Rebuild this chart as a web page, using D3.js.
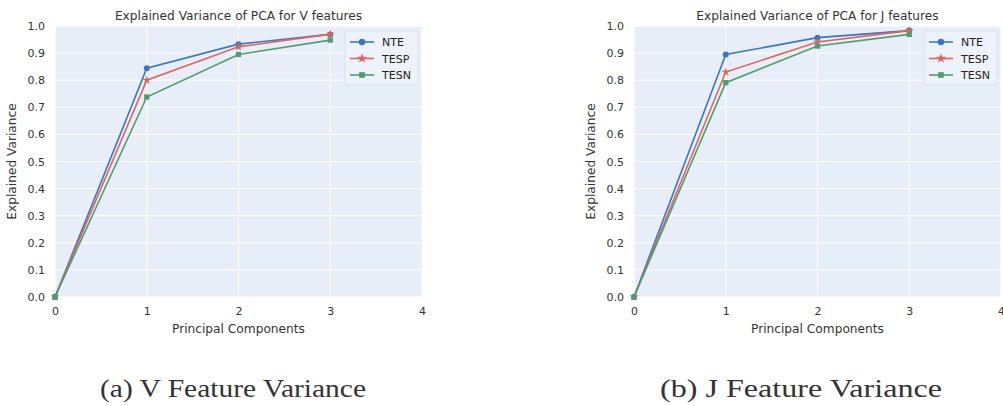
<!DOCTYPE html>
<html>
<head>
<meta charset="utf-8">
<script src="https://cdn.jsdelivr.net/npm/d3@7"></script>
<style>
  body { margin: 0; background: #fff; }
  svg { display: block; }
</style>
</head>
<body>
<div id="chart"></div>
<script>
const components = [0, 1, 2, 3];
const seriesNames = ["NTE", "TESP", "TESN"];
const yTicks = [0, 0.1, 0.2, 0.3, 0.4, 0.5, 0.6, 0.7, 0.8, 0.9, 1.0];
const xTicks = [0, 1, 2, 3, 4];

// V features
const vNTE = [0.0, 0.844, 0.933, 0.969];
const vTESP = [0.0, 0.800, 0.923, 0.970];
const vTESN = [0.0, 0.738, 0.895, 0.948];

// J features
const jNTE = [0.0, 0.895, 0.957, 0.983];
const jTESP = [0.0, 0.830, 0.941, 0.983];
const jTESN = [0.0, 0.791, 0.926, 0.969];

const colors = { NTE: "#3b76c2", TESP: "#e0645e", TESN: "#4f9d6c" };
const markers = { NTE: d3.symbolCircle, TESP: d3.symbolStar, TESN: d3.symbolSquare };

const width = 1003, height = 406;
const svg = d3.select("#chart").append("svg")
  .attr("width", width)
  .attr("height", height);

function drawPanel(opts) {
  const { left, right, title, caption, captionX, captionW, data } = opts;
  const top = 26, bottom = 297;

  const x = d3.scaleLinear().domain([0, 4]).range([left, right]);
  const y = d3.scaleLinear().domain([0, 1]).range([bottom, top]);

  const g = svg.append("g");

  // plot background
  g.append("rect")
    .attr("x", x(0))
    .attr("y", y(1))
    .attr("width", x(4) - x(0))
    .attr("height", y(0) - y(1))
    .attr("fill", "#e8eef8");

  // grid
  g.append("g")
    .selectAll("line")
    .data(yTicks)
    .join("line")
    .attr("x1", x(0)).attr("x2", x(4))
    .attr("y1", (d) => y(d)).attr("y2", (d) => y(d))
    .attr("stroke", "#fff")
    .attr("stroke-width", 1);
  g.append("g")
    .selectAll("line")
    .data(xTicks)
    .join("line")
    .attr("y1", y(0)).attr("y2", y(1))
    .attr("x1", (d) => x(d)).attr("x2", (d) => x(d))
    .attr("stroke", "#fff")
    .attr("stroke-width", 1);

  // axes
  const yAxis = g.append("g")
    .attr("transform", `translate(${x(0)},0)`)
    .call(d3.axisLeft(y).tickValues(yTicks).tickFormat(d3.format(".1f")).tickSize(0).tickPadding(10));
  const xAxis = g.append("g")
    .attr("transform", `translate(0,${y(0)})`)
    .call(d3.axisBottom(x).tickValues(xTicks).tickFormat(d3.format("d")).tickSize(0).tickPadding(10));
  [yAxis, xAxis].forEach((a) => {
    a.select(".domain").remove();
    a.selectAll("text")
      .attr("font-family", "DejaVu Sans")
      .attr("font-size", 11)
      .attr("fill", "#333");
  });

  // title and axis labels
  g.append("text")
    .attr("x", (x(0) + x(4)) / 2)
    .attr("y", 20)
    .attr("text-anchor", "middle")
    .attr("font-family", "DejaVu Sans")
    .attr("font-size", 12.2)
    .attr("fill", "#333")
    .text(title);

  g.append("text")
    .attr("x", (x(0) + x(4)) / 2)
    .attr("y", 333)
    .attr("text-anchor", "middle")
    .attr("font-family", "DejaVu Sans")
    .attr("font-size", 12.2)
    .attr("fill", "#333")
    .text("Principal Components");

  g.append("text")
    .attr("transform", `translate(${x(0) - 39},${(y(0) + y(1)) / 2}) rotate(-90)`)
    .attr("text-anchor", "middle")
    .attr("font-family", "DejaVu Sans")
    .attr("font-size", 12.2)
    .attr("fill", "#333")
    .text("Explained Variance");

  // lines and markers
  const line = d3.line()
    .x((d, i) => x(components[i]))
    .y((d) => y(d));

  seriesNames.forEach((name) => {
    const vals = data[name];
    g.append("path")
      .datum(vals)
      .attr("d", line)
      .attr("fill", "none")
      .attr("stroke", colors[name])
      .attr("stroke-width", 1.6);
    g.append("g")
      .selectAll("path")
      .data(vals)
      .join("path")
      .attr("transform", (d, i) => `translate(${x(components[i])},${y(d)})`)
      .attr("d", d3.symbol().type(markers[name]).size(name === "TESP" ? 24 : 28))
      .attr("fill", colors[name]);
  });

  // legend
  const lx = x(4) - 77, ly = 31;
  const legend = g.append("g").attr("transform", `translate(${lx},${ly})`);
  legend.append("rect")
    .attr("width", 73)
    .attr("height", 54)
    .attr("rx", 2)
    .attr("fill", "#eef2fa")
    .attr("stroke", "#d8dcea")
    .attr("stroke-width", 0.8);
  seriesNames.forEach((name, i) => {
    const ey = 11 + i * 16.5;
    legend.append("line")
      .attr("x1", 5).attr("x2", 29)
      .attr("y1", ey).attr("y2", ey)
      .attr("stroke", colors[name])
      .attr("stroke-width", 1.6);
    legend.append("path")
      .attr("transform", `translate(17,${ey})`)
      .attr("d", d3.symbol().type(markers[name]).size(32))
      .attr("fill", colors[name]);
    legend.append("text")
      .attr("x", 37)
      .attr("y", ey + 4)
      .attr("font-family", "DejaVu Sans")
      .attr("font-size", 11)
      .attr("fill", "#222")
      .text(name);
  });

  // caption
  svg.append("text")
    .attr("x", captionX)
    .attr("y", 397)
    .attr("text-anchor", "middle")
    .attr("font-family", "Liberation Serif")
    .attr("font-size", 25)
    .attr("textLength", captionW)
    .attr("lengthAdjust", "spacingAndGlyphs")
    .attr("fill", "#333")
    .text(caption);
}

drawPanel({
  left: 55, right: 422,
  title: "Explained Variance of PCA for V features",
  caption: "(a) V Feature Variance",
  captionX: 233, captionW: 266,
  data: { NTE: vNTE, TESP: vTESP, TESN: vTESN },
});

drawPanel({
  left: 634, right: 1001,
  title: "Explained Variance of PCA for J features",
  caption: "(b) J Feature Variance",
  captionX: 801, captionW: 282,
  data: { NTE: jNTE, TESP: jTESP, TESN: jTESN },
});
</script>
</body>
</html>
